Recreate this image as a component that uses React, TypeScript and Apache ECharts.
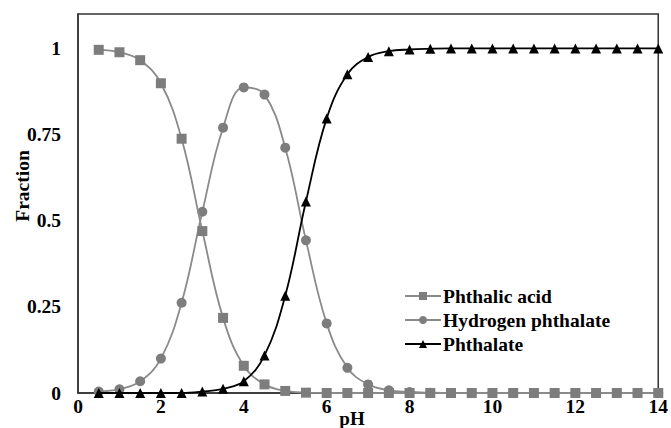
import React, { useEffect, useRef } from "react";
import * as echarts from "echarts";

const pH = [0.5, 1, 1.5, 2, 2.5, 3, 3.5, 4, 4.5, 5, 5.5, 6, 6.5, 7, 7.5, 8, 8.5, 9, 9.5, 10, 10.5, 11, 11.5, 12, 12.5, 13, 13.5, 14];
const phthalicAcid = [0.996, 0.989, 0.966, 0.899, 0.738, 0.47, 0.218, 0.079, 0.025, 0.006, 0.001, 0, 0, 0, 0, 0, 0, 0, 0, 0, 0, 0, 0, 0, 0, 0, 0, 0];
const hydrogenPhthalate = [0.004, 0.011, 0.034, 0.1, 0.262, 0.526, 0.77, 0.887, 0.866, 0.712, 0.443, 0.202, 0.073, 0.025, 0.008, 0.003, 0.001, 0, 0, 0, 0, 0, 0, 0, 0, 0, 0, 0];
const phthalate = [0, 0, 0, 0, 0, 0.004, 0.012, 0.034, 0.109, 0.282, 0.556, 0.797, 0.925, 0.975, 0.992, 0.997, 0.999, 1, 1, 1, 1, 1, 1, 1, 1, 1, 1, 1];
const seriesNames = ["Phthalic acid", "Hydrogen phthalate", "Phthalate"];
const xTitle = "pH";
const yTitle = "Fraction";

const FONT = "'Liberation Serif', 'Times New Roman', serif";

export default function App() {
  const ref = useRef<HTMLDivElement>(null);
  useEffect(() => {
    if (!ref.current) return;
    const chart = echarts.init(ref.current, null, { renderer: "svg" });
    const pair = (ys: number[]) => pH.map((x, i) => [x, ys[i]]);
    const gray = "#7d7d7d";
    chart.setOption({
      animation: false,
      backgroundColor: "#ffffff",
      grid: {
        left: 78,
        right: 10,
        top: 14,
        bottom: 35,
        show: true,
        borderColor: "#333333",
        borderWidth: 1.5,
      },
      xAxis: {
        type: "value",
        min: 0,
        max: 14,
        interval: 2,
        axisLine: { show: true, lineStyle: { color: "#333333", width: 1.5 } },
        axisTick: { show: false },
        splitLine: { show: false },
        axisLabel: { color: "#000", fontFamily: FONT, fontWeight: "bold", fontSize: 19.5, margin: 3 },
      },
      yAxis: {
        type: "value",
        min: 0,
        max: 1.1,
        interval: 0.25,
        axisLine: { show: true, lineStyle: { color: "#333333", width: 1.5 } },
        axisTick: { show: false },
        splitLine: { show: false },
        axisLabel: {
          color: "#000",
          fontFamily: FONT,
          fontWeight: "bold",
          fontSize: 19.5,
          margin: 17,
          formatter: (v: number) => (v > 1.01 ? "" : String(v)),
        },
      },
      legend: {
        orient: "vertical",
        left: 399,
        top: 281,
        itemWidth: 36,
        itemHeight: 10,
        itemGap: 4,
        data: seriesNames,
        textStyle: { color: "#000", fontFamily: FONT, fontWeight: "bold", fontSize: 19.5, padding: [0, 0, 0, -3] },
      },
      graphic: [
        {
          type: "text",
          x: 352,
          y: 418,
          style: { text: xTitle, fill: "#000", font: `bold 19px ${FONT}`, align: "center", verticalAlign: "middle" },
        },
        {
          type: "text",
          x: 22,
          y: 186,
          rotation: Math.PI / 2,
          style: { text: yTitle, fill: "#000", font: `bold 19.5px ${FONT}`, align: "center", verticalAlign: "middle" },
        },
      ],
      series: [
        {
          name: seriesNames[1],
          type: "line",
          data: pair(hydrogenPhthalate),
          smooth: 0.4,
          symbol: "circle",
          symbolSize: 10,
          itemStyle: { color: gray },
          lineStyle: { color: "#8a8a8a", width: 1.8 },
          z: 2,
        },
        {
          name: seriesNames[0],
          type: "line",
          data: pair(phthalicAcid),
          smooth: 0.4,
          symbol: "rect",
          symbolSize: 10,
          itemStyle: { color: gray },
          lineStyle: { color: "#8a8a8a", width: 1.8 },
          z: 3,
        },
        {
          name: seriesNames[2],
          type: "line",
          data: pair(phthalate),
          smooth: 0.4,
          symbol: "triangle",
          symbolSize: 10,
          itemStyle: { color: "#000" },
          lineStyle: { color: "#000", width: 1.8 },
          z: 4,
        },
      ],
    });
    return () => chart.dispose();
  }, []);
  return <div ref={ref} style={{ width: 671, height: 428, position: "absolute", left: 0, top: 0 }} />;
}
